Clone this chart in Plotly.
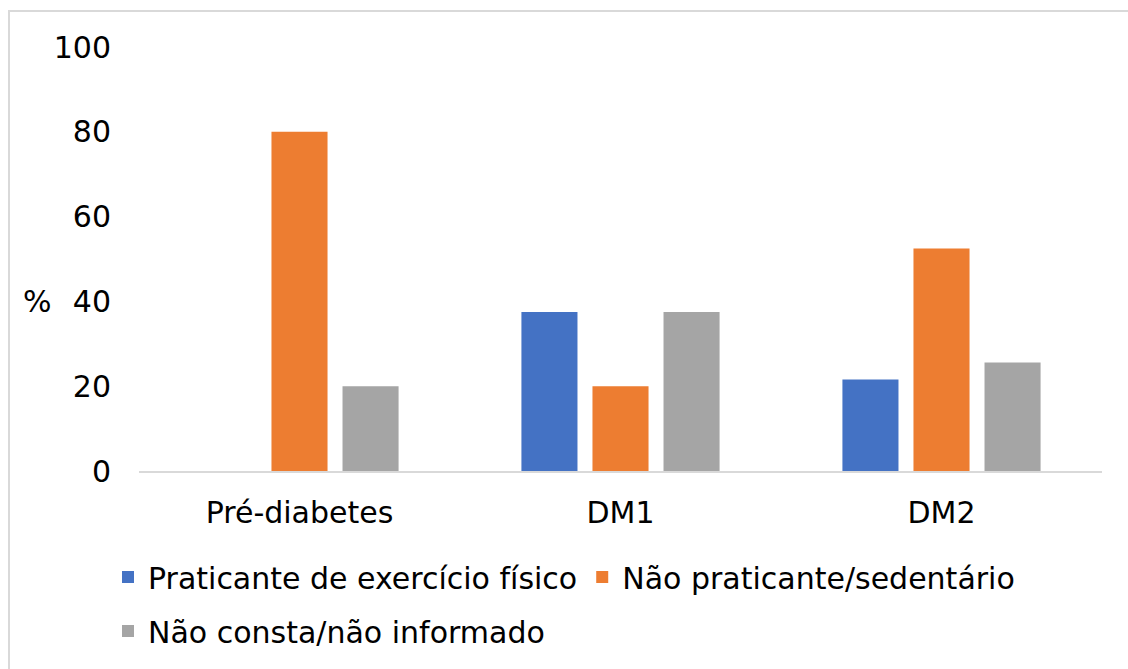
import plotly.graph_objects as go

categories = ["Pré-diabetes", "DM1", "DM2"]
praticante = [0, 37.5, 21.6]
nao_praticante = [80, 20, 52.5]
nao_consta = [20, 37.5, 25.6]

series_names = [
    "Praticante de exercício físico",
    "Não praticante/sedentário",
    "Não consta/não informado",
]
colors = ["#4472C4", "#ED7D31", "#A5A5A5"]
y_ticks = [0, 20, 40, 60, 80, 100]

W, H = 1128, 669
L, R, T, B = 139, 26, 47, 198
pw, ph = W - L - R, H - T - B

FONT = "DejaVu Sans"

fig = go.Figure()
for name, vals, col, lg in zip(series_names,
                               [praticante, nao_praticante, nao_consta],
                               colors, ["legend", "legend", "legend2"]):
    fig.add_trace(go.Bar(x=categories, y=vals, name=name,
                         marker=dict(color=col, line=dict(width=0)),
                         legend=lg))

def px_x(p):
    return (p - L) / pw

def px_y(p):
    return (H - B - p) / ph

fig.update_layout(
    width=W, height=H,
    margin=dict(l=L, r=R, t=T, b=B),
    paper_bgcolor="white", plot_bgcolor="white",
    font=dict(family=FONT, size=30, color="#000000"),
    barmode="group", bargap=0.336, bargroupgap=0.211,
    showlegend=True,
    legend=dict(orientation="h", x=px_x(108), y=px_y(577), yanchor="middle",
                xanchor="left", font=dict(size=30), bgcolor="rgba(0,0,0,0)",
                itemclick=False),
    legend2=dict(orientation="h", x=px_x(108), y=px_y(631), yanchor="middle",
                 xanchor="left", font=dict(size=30), bgcolor="rgba(0,0,0,0)",
                 itemclick=False),
    xaxis=dict(showline=True, linecolor="#D9D9D9", linewidth=2,
               showgrid=False, ticks="", ticklabelstandoff=14,
               tickfont=dict(size=30)),
    yaxis=dict(range=[0, 100], tickvals=y_ticks, showline=False,
               showgrid=False, zeroline=False, ticks="",
               ticklabelstandoff=27, tickfont=dict(size=30)),
    shapes=[dict(type="rect", xref="paper", yref="paper",
                 x0=px_x(9), x1=px_x(1140), y0=px_y(690), y1=px_y(11),
                 line=dict(color="#D9D9D9", width=2), fillcolor="rgba(0,0,0,0)",
                 layer="below")],
    annotations=[dict(text="%", xref="paper", yref="y", x=px_x(37), y=40,
                      showarrow=False, xanchor="center", yanchor="middle",
                      font=dict(size=30))],
)

fig.write_html("out.html")
